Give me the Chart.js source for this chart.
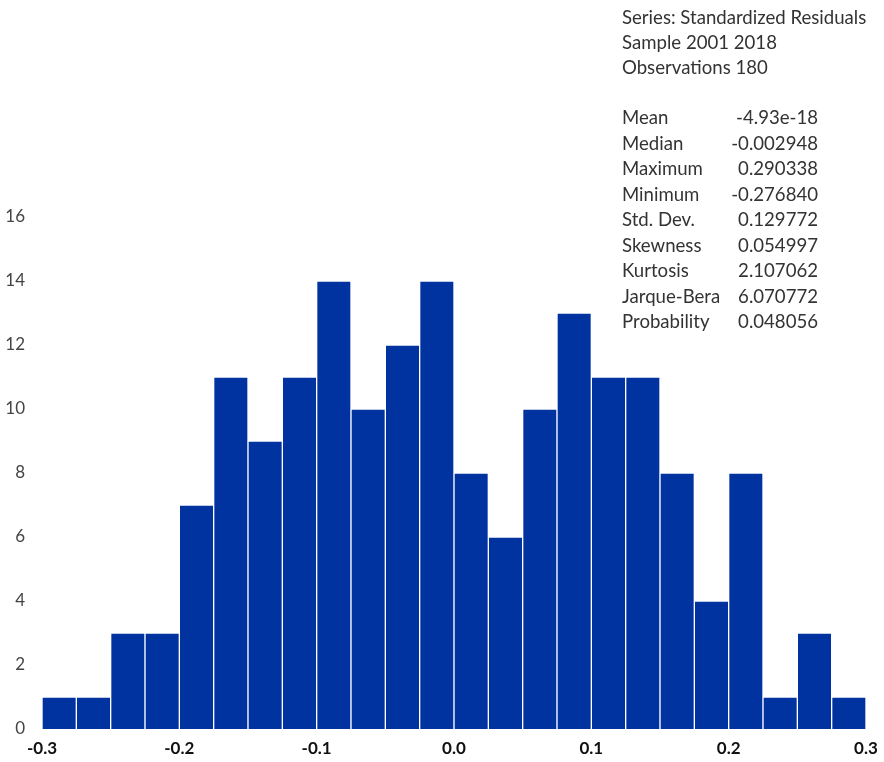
<!DOCTYPE html>
<html>
<head>
<meta charset="utf-8">
<script src="https://cdn.jsdelivr.net/npm/chart.js@4"></script>
<style>
    body { margin: 0; background: #fff; }
    #wrap { position: relative; width: 884px; height: 762px; }
    #stats {
        position: absolute; left: 622px; top: 5px; width: 262px;
        font-family: Lato, "Open Sans", sans-serif; font-size: 18.6px; color: #333;
        line-height: 25px;
    }
    #stats table { border-collapse: collapse; width: 196px; }
    #stats td { padding: 0; line-height: 25.5px; white-space: nowrap; }
    #stats td.v { text-align: right; }
</style>
</head>
<body>
<div id="wrap">
    <canvas id="chartHist" width="884" height="762"></canvas>
    <div id="stats"></div>
</div>
<script>
// histogram bins (centers) and counts
const binCenters = [-0.2875, -0.2625, -0.2375, -0.2125, -0.1875, -0.1625, -0.1375, -0.1125,
    -0.0875, -0.0625, -0.0375, -0.0125, 0.0125, 0.0375, 0.0625, 0.0875,
    0.1125, 0.1375, 0.1625, 0.1875, 0.2125, 0.2375, 0.2625, 0.2875]
const counts = [1, 1, 3, 3, 7, 11, 9, 11, 14, 10, 12, 14, 8, 6, 10, 13, 11, 11, 8, 4, 8, 1, 3, 1]
const yTicks = [0, 2, 4, 6, 8, 10, 12, 14, 16]
const xTicks = [-0.3, -0.2, -0.1, 0.0, 0.1, 0.2, 0.3]

const headerLines = ['Series: Standardized Residuals', 'Sample 2001 2018', 'Observations 180']
const statLabels = ['Mean', 'Median', 'Maximum', 'Minimum', 'Std. Dev.', 'Skewness', 'Kurtosis', 'Jarque-Bera', 'Probability']
const statValues = ['-4.93e-18', '-0.002948', '0.290338', '-0.276840', '0.129772', '0.054997', '2.107062', '6.070772', '0.048056']

function buildStats() {
    var html = ''
    headerLines.forEach(line => {
        html += '<div>' + line + '</div>'
    })
    html += '<div>&nbsp;</div><table>'
    statLabels.forEach((label, i) => {
        html += '<tr><td>' + label + '</td><td class="v">' + statValues[i] + '</td></tr>'
    })
    html += '</table>'
    document.getElementById('stats').innerHTML = html
}

function displayHistogram() {
    const config = {
        type: 'bar',
        data: {
            datasets: [{
                data: binCenters.map((x, i) => ({ x: x, y: counts[i] })),
                backgroundColor: '#0033a0',
                borderColor: '#ffffff',
                borderWidth: 1,
                borderSkipped: 'bottom',
                barPercentage: 1,
                categoryPercentage: 1,
            }]
        },
        options: {
            responsive: false,
            animation: false,
            layout: {
                padding: { top: 217, right: 18, left: 0, bottom: 0 }
            },
            plugins: {
                legend: { display: false },
                tooltip: { enabled: false },
            },
            scales: {
                x: {
                    type: 'linear',
                    offset: false,
                    min: -0.3,
                    max: 0.3,
                    border: { display: false },
                    grid: { display: false, drawTicks: false },
                    afterBuildTicks: scale => {
                        scale.ticks = xTicks.map(v => ({ value: v }))
                    },
                    afterFit: scale => {
                        scale.height = 33
                        scale.paddingLeft = 0
                        scale.paddingRight = 0
                    },
                    ticks: {
                        padding: 9,
                        color: '#111',
                        font: { family: 'Lato', size: 17, weight: 'bold' },
                        callback: v => v.toFixed(1),
                    }
                },
                y: {
                    min: 0,
                    max: 16,
                    border: { display: false },
                    grid: { display: false, drawTicks: false },
                    afterBuildTicks: scale => {
                        scale.ticks = yTicks.map(v => ({ value: v }))
                    },
                    afterFit: scale => { scale.width = 42 },
                    ticks: {
                        padding: 17,
                        color: '#444',
                        font: { family: 'Lato', size: 17 },
                    }
                }
            }
        }
    };
    var chart = new Chart(document.getElementById('chartHist'), config);
}

buildStats()
displayHistogram()
</script>
</body>
</html>
